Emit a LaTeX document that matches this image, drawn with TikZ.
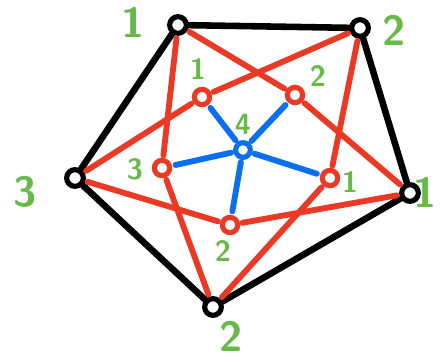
\documentclass[tikz,border=0pt]{standalone}
\usepackage{tikz}
\usetikzlibrary{positioning}
\definecolor{lblgreen}{RGB}{104, 186, 72}
\definecolor{edgered}{RGB}{234, 58, 38}
\definecolor{edgeblue}{RGB}{12, 112, 238}

\begin{document}
\begin{tikzpicture}[
    x=0.03cm, y=-0.03cm,
    vtx/.style={circle, draw=black, line width=4.4pt, minimum size=0.5cm, inner sep=0pt},
    shadowvtx/.style={vtx, draw=edgered, minimum size=0.46cm},
    hubvtx/.style={vtx, draw=edgeblue, minimum size=0.44cm},
    lbl/.style={text=lblgreen, font=\sffamily\bfseries\fontsize{36}{36}\selectfont},
    smalllbl/.style={lbl, font=\sffamily\bfseries\fontsize{25}{25}\selectfont},
    outeredge/.style={line width=5.6pt, line cap=round},
    redge/.style={draw=edgered, line width=5pt, line cap=round, shorten <=2pt, shorten >=2pt},
    bedge/.style={draw=edgeblue, line width=5pt, line cap=round, shorten <=2pt, shorten >=3pt},
]
\useasboundingbox (0,0) rectangle (440,359);

% outer cycle
\node[vtx] (o1) at (178,25)  {};
\node[vtx] (o2) at (360,28)  {};
\node[vtx] (o3) at (410,193) {};
\node[vtx] (o4) at (213,307) {};
\node[vtx] (o5) at (75,178)  {};

% shadow vertices
\node[shadowvtx] (s1) at (202,97)  {};
\node[shadowvtx] (s2) at (295,95)  {};
\node[shadowvtx] (s3) at (330,178) {};
\node[shadowvtx] (s4) at (230,225) {};
\node[shadowvtx] (s5) at (162,168) {};

% hub
\node[hubvtx] (hub) at (243,150) {};

% colours
\node[lbl] at (133,22)  {1};
\node[lbl] at (394,30)  {2};
\node[lbl, anchor=east] at (441,192) {1};
\node[lbl] at (231,336) {2};
\node[lbl] at (25,192)  {3};
\node[smalllbl] at (198,69)  {1};
\node[smalllbl] at (318,76)  {2};
\node[smalllbl] at (350,182) {1};
\node[smalllbl] at (223,251) {2};
\node[smalllbl] at (135,169) {3};
\node[smalllbl] at (243,124) {4};

\draw[outeredge] (o1) -- (o2);
\draw[outeredge] (o2) -- (o3);
\draw[outeredge] (o3) -- (o4);
\draw[outeredge] (o4) -- (o5);
\draw[outeredge] (o5) -- (o1);

\draw[redge] (s1) -- (o2);
\draw[redge] (s1) -- (o5);
\draw[redge] (s2) -- (o1);
\draw[redge] (s2) -- (o3);
\draw[redge] (s3) -- (o2);
\draw[redge] (s3) -- (o4);
\draw[redge] (s4) -- (o3);
\draw[redge] (s4) -- (o5);
\draw[redge] (s5) -- (o1);
\draw[redge] (s5) -- (o4);

\foreach \s in {s1,s2,s3,s4,s5}
    \draw[bedge] (hub) -- (\s);

\end{tikzpicture}
\end{document}
